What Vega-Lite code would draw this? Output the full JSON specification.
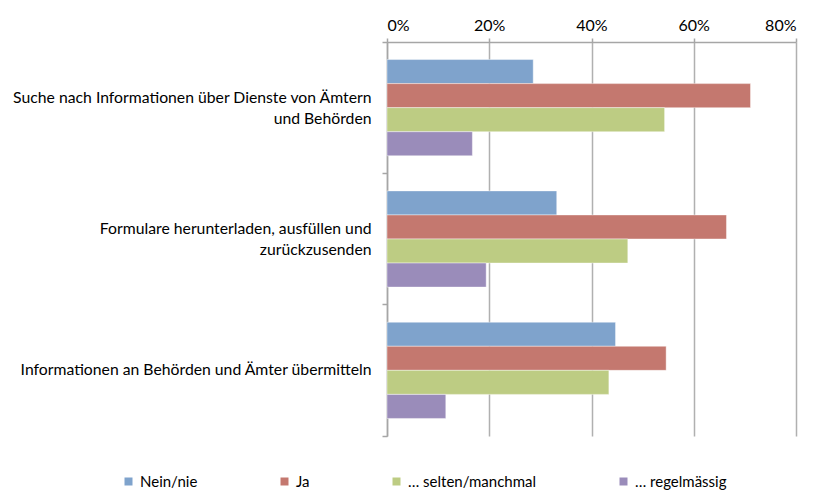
{
  "$schema": "https://vega.github.io/schema/vega-lite/v6.json",
  "autosize": {"type": "none"},
  "width": 409,
  "height": 394,
  "padding": {"left": 387, "top": 42, "right": 17, "bottom": 56},
  "config": {
    "font": "Lato",
    "view": {"stroke": null},
    "axis": {"labelFont": "Lato", "labelColor": "#000000"},
    "legend": {"labelFont": "Lato"}
  },
  "data": {
    "values": [
      {"kategorie": "Suche nach Informationen über Dienste von Ämtern|und Behörden", "serie": "Nein/nie", "wert": 0.286},
      {"kategorie": "Suche nach Informationen über Dienste von Ämtern|und Behörden", "serie": "Ja", "wert": 0.711},
      {"kategorie": "Suche nach Informationen über Dienste von Ämtern|und Behörden", "serie": "… selten/manchmal", "wert": 0.543},
      {"kategorie": "Suche nach Informationen über Dienste von Ämtern|und Behörden", "serie": "… regelmässig", "wert": 0.167},
      {"kategorie": "Formulare herunterladen, ausfüllen und|zurückzusenden", "serie": "Nein/nie", "wert": 0.332},
      {"kategorie": "Formulare herunterladen, ausfüllen und|zurückzusenden", "serie": "Ja", "wert": 0.664},
      {"kategorie": "Formulare herunterladen, ausfüllen und|zurückzusenden", "serie": "… selten/manchmal", "wert": 0.471},
      {"kategorie": "Formulare herunterladen, ausfüllen und|zurückzusenden", "serie": "… regelmässig", "wert": 0.194},
      {"kategorie": "Informationen an Behörden und Ämter übermitteln", "serie": "Nein/nie", "wert": 0.447},
      {"kategorie": "Informationen an Behörden und Ämter übermitteln", "serie": "Ja", "wert": 0.546},
      {"kategorie": "Informationen an Behörden und Ämter übermitteln", "serie": "… selten/manchmal", "wert": 0.434},
      {"kategorie": "Informationen an Behörden und Ämter übermitteln", "serie": "… regelmässig", "wert": 0.115}
    ]
  },
  "mark": {"type": "bar", "stroke": "#ffffff", "strokeWidth": 0.6, "strokeOpacity": 0.7},
  "encoding": {
    "y": {
      "field": "kategorie",
      "type": "nominal",
      "sort": null,
      "scale": {"paddingInner": 0, "paddingOuter": 0},
      "axis": {
        "title": null,
        "labelExpr": "split(datum.label, '|')",
        "labelAlign": "right",
        "labelFontSize": 15.75,
        "labelLineHeight": 21,
        "labelPadding": 11,
        "labelLimit": 400,
        "labelOffset": {"condition": {"test": "indexof(datum.label, '|') >= 0", "value": -10}, "value": 0},
        "bandPosition": 1,
        "tickExtra": true,
        "tickSize": 5,
        "tickColor": "#a6a6a6",
        "tickWidth": 1.5,
        "domainColor": "#a6a6a6",
        "domainWidth": 1.5
      }
    },
    "yOffset": {
      "field": "serie",
      "type": "nominal",
      "sort": ["Nein/nie", "Ja", "… selten/manchmal", "… regelmässig"],
      "scale": {"paddingInner": 0, "paddingOuter": 0.73}
    },
    "x": {
      "field": "wert",
      "type": "quantitative",
      "scale": {"domain": [0, 0.8], "nice": false},
      "axis": {
        "orient": "top",
        "title": null,
        "format": ".0%",
        "values": [0, 0.2, 0.4, 0.6, 0.8],
        "labelFontSize": 16,
        "labelPadding": 5,
        "tickSize": 4,
        "tickColor": "#a6a6a6",
        "tickWidth": 1.5,
        "domainColor": "#a6a6a6",
        "domainWidth": 1.5,
        "grid": true,
        "gridColor": "#b0b0b0",
        "gridWidth": 1.5
      }
    },
    "color": {
      "field": "serie",
      "type": "nominal",
      "sort": ["Nein/nie", "Ja", "… selten/manchmal", "… regelmässig"],
      "scale": {
        "domain": ["Nein/nie", "Ja", "… selten/manchmal", "… regelmässig"],
        "range": ["#7fa3cc", "#c4786f", "#bdcc83", "#9a8cba"]
      },
      "legend": {
        "title": null,
        "orient": "none",
        "direction": "horizontal",
        "legendX": -266,
        "legendY": 432,
        "columns": 4,
        "gridAlign": "none",
        "columnPadding": 79,
        "symbolType": "square",
        "symbolSize": 64,
        "symbolStrokeWidth": 0,
        "labelFontSize": 15,
        "labelOffset": 4,
        "labelLimit": 300
      }
    }
  }
}
